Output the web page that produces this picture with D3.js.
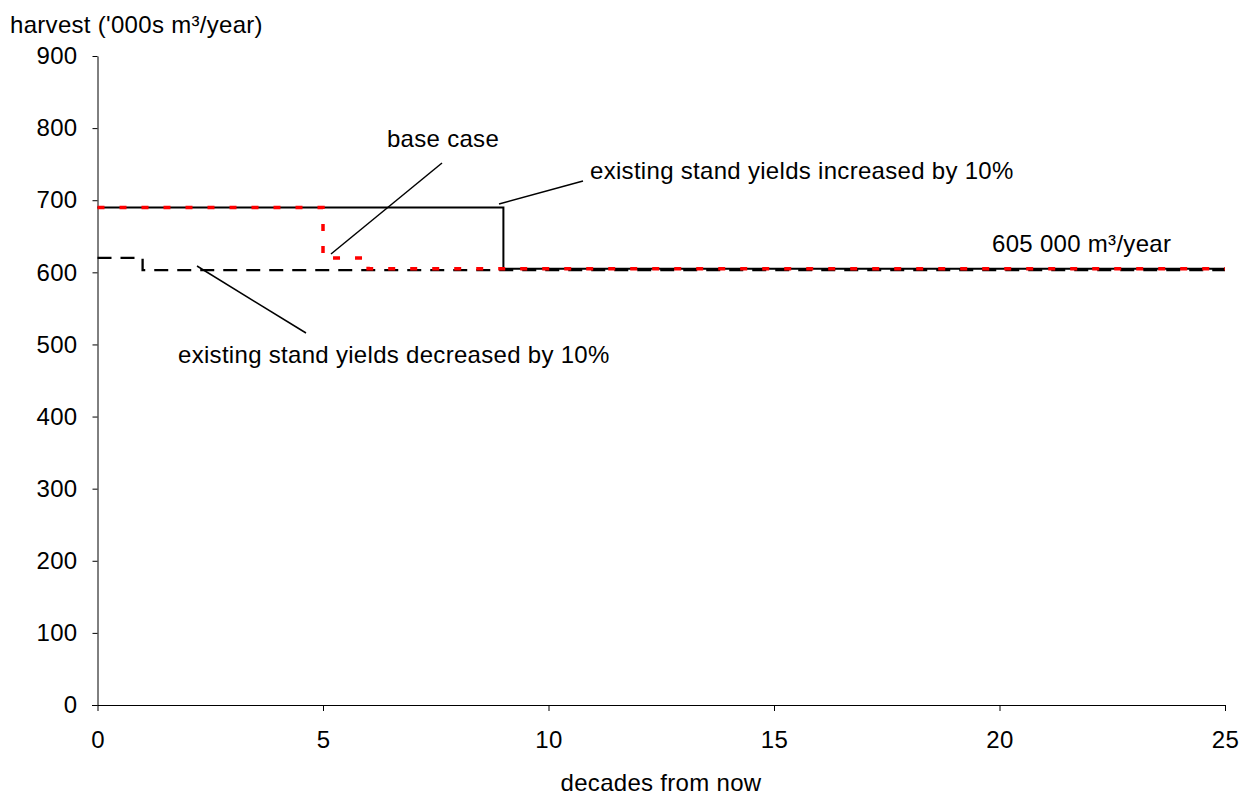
<!DOCTYPE html>
<html><head><meta charset="utf-8">
<script src="https://cdn.jsdelivr.net/npm/d3@7"></script>
<style>body{margin:0;background:#fff}svg{display:block;font-family:"Liberation Sans",Arial,sans-serif}</style>
</head><body><svg id="c" width="1242" height="795"></svg>
<script>
const decades = d3.range(0, 26);
// harvest per decade ('000s m3/year)
const baseCase  = [690,690,690,690,690,620,605,605,605,605,605,605,605,605,605,605,605,605,605,605,605,605,605,605,605,605];
const increased = [690,690,690,690,690,690,690,690,690,605,605,605,605,605,605,605,605,605,605,605,605,605,605,605,605,605];
const decreased = [620,603,603,603,603,603,603,603,603,603,603,603,603,603,603,603,603,603,603,603,603,603,603,603,603,603];
const yTicks = [0,100,200,300,400,500,600,700,800,900];
const xTicks = [0,5,10,15,20,25];

const FS = 24, LS = 0.3;
const svg = d3.select("#c");
const x = d3.scaleLinear().domain([0,25]).range([97.5,1225]);
const y = d3.scaleLinear().domain([0,900]).range([705,56]);

const yAxis = svg.append("g").attr("transform","translate(97.5,0)")
  .call(d3.axisLeft(y).tickValues(yTicks).tickSize(5).tickPadding(15).tickSizeOuter(0));
const xAxis = svg.append("g").attr("transform","translate(0,705)")
  .call(d3.axisBottom(x).tickValues(xTicks).tickSize(6).tickPadding(20).tickSizeOuter(0));
[yAxis,xAxis].forEach(a=>{
  a.selectAll("path,line").attr("stroke","#000").attr("stroke-width",1);
  a.selectAll("text").attr("font-size",FS).attr("letter-spacing",LS).attr("fill","#000")
    .attr("font-family","Liberation Sans, Arial, sans-serif");
});
svg.append("line").attr("x1",92).attr("x2",97.5).attr("y1",705.5).attr("y2",705.5).attr("stroke","#000");

const line = d3.line().x((d,i)=>x(decades[i])).y(d=>y(d)).curve(d3.curveStepAfter);

svg.append("path").datum(decreased).attr("d",line).attr("fill","none")
  .attr("stroke","#000").attr("stroke-width",2.3).attr("stroke-dasharray","14,9");
svg.append("path").datum(increased).attr("d",line).attr("fill","none")
  .attr("stroke","#000").attr("stroke-width",2);
svg.append("path").datum(baseCase).attr("d",line).attr("fill","none")
  .attr("stroke","#ff0000").attr("stroke-width",3.5).attr("stroke-dasharray","7,15");

const txt = (t,xx,yy,anchor)=>svg.append("text").attr("x",xx).attr("y",yy)
  .attr("font-size",FS).attr("letter-spacing",LS).attr("text-anchor",anchor||"start").attr("fill","#000").text(t);

txt("harvest ('000s m³/year)",10,33);
txt("decades from now",661,791,"middle");

const ann = (x1,y1,x2,y2)=>svg.append("line").attr("x1",x1).attr("y1",y1).attr("x2",x2).attr("y2",y2)
  .attr("stroke","#000").attr("stroke-width",1.5);
txt("base case",443,147,"middle");
ann(442,163,331,254);
txt("existing stand yields increased by 10%",590,179);
ann(583,181,499,204);
txt("605 000 m³/year",992,252);
txt("existing stand yields decreased by 10%",178,363);
ann(197,266,306,333);
</script></body></html>
